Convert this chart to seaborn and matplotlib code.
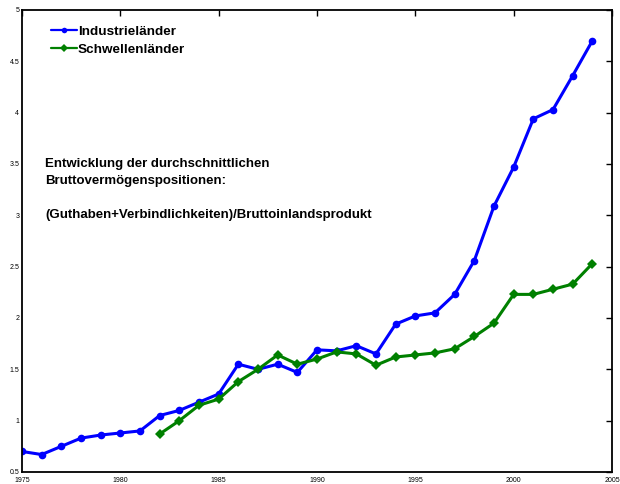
import matplotlib
matplotlib.use("Agg")
import matplotlib.pyplot as plt
import seaborn as sns
import pandas as pd

years_ind = list(range(1975, 2005))
industrie = [0.70, 0.67, 0.75, 0.83, 0.86, 0.88, 0.90, 1.05, 1.10, 1.18,
             1.26, 1.55, 1.50, 1.55, 1.47, 1.69, 1.68, 1.73, 1.65, 1.94,
             2.02, 2.05, 2.23, 2.56, 3.09, 3.47, 3.94, 4.03, 4.36, 4.70]

years_sch = list(range(1982, 2005))
schwellen = [0.87, 1.00, 1.15, 1.21, 1.38, 1.50, 1.64, 1.55, 1.60, 1.67,
             1.65, 1.54, 1.62, 1.64, 1.66, 1.70, 1.82, 1.95, 2.23, 2.23,
             2.28, 2.33, 2.53]

x_ticks = [1975, 1980, 1985, 1990, 1995, 2000, 2005]
y_ticks = [0.5, 1, 1.5, 2, 2.5, 3, 3.5, 4, 4.5, 5]
y_ticklabels = ["0.5", "1", "1.5", "2", "2.5", "3", "3.5", "4", "4.5", "5"]

sns.set_style("white")
plt.rcParams["font.family"] = ["Liberation Sans", "DejaVu Sans"]
plt.rcParams["text.color"] = "black"

df_ind = pd.DataFrame({"Jahr": years_ind, "Wert": industrie})
df_sch = pd.DataFrame({"Jahr": years_sch, "Wert": schwellen})

fig = plt.figure(figsize=(6.2, 4.84), dpi=100)
ax = fig.add_axes([22 / 620, 12 / 484, 590 / 620, 462 / 484])

sns.lineplot(data=df_ind, x="Jahr", y="Wert", ax=ax, color="#0000ff",
             linewidth=2.2, marker="o", markersize=5.5, markeredgewidth=0,
             label="Industrieländer")
sns.lineplot(data=df_sch, x="Jahr", y="Wert", ax=ax, color="#008000",
             linewidth=2.2, marker="D", markersize=5, markeredgewidth=0,
             label="Schwellenländer")

ax.set_xlim(1975, 2005)
ax.set_ylim(0.5, 5)
ax.set_xticks(x_ticks)
ax.set_xticklabels([str(t) for t in x_ticks])
ax.set_yticks(y_ticks)
ax.set_yticklabels(y_ticklabels)
ax.set_xlabel("")
ax.set_ylabel("")
ax.tick_params(direction="in", length=4, width=1, labelsize=5,
               top=True, right=True, pad=2, colors="black")
ax.tick_params(axis="x", pad=3.5)
for s in ax.spines.values():
    s.set_visible(True)
    s.set_color("black")
    s.set_linewidth(1.3)

leg = ax.legend(loc="upper left", frameon=False, bbox_to_anchor=(0.049, 0.966),
                prop={"weight": "bold", "size": 9.7}, handlelength=1.95,
                handletextpad=0.05, labelspacing=0.4, borderaxespad=0,
                borderpad=0)
for h in leg.legend_handles:
    h.set_linewidth(1.6)
    h.set_markersize(4)
for t in leg.get_texts():
    t.set_color("black")

ax.text(0.039, 0.679,
        "Entwicklung der durchschnittlichen\nBruttovermögenspositionen:\n\n"
        "(Guthaben+Verbindlichkeiten)/Bruttoinlandsprodukt",
        transform=ax.transAxes, fontsize=9.5, fontweight="bold",
        color="black", va="top", ha="left", linespacing=1.55)

fig.savefig("out.png", dpi=100)
